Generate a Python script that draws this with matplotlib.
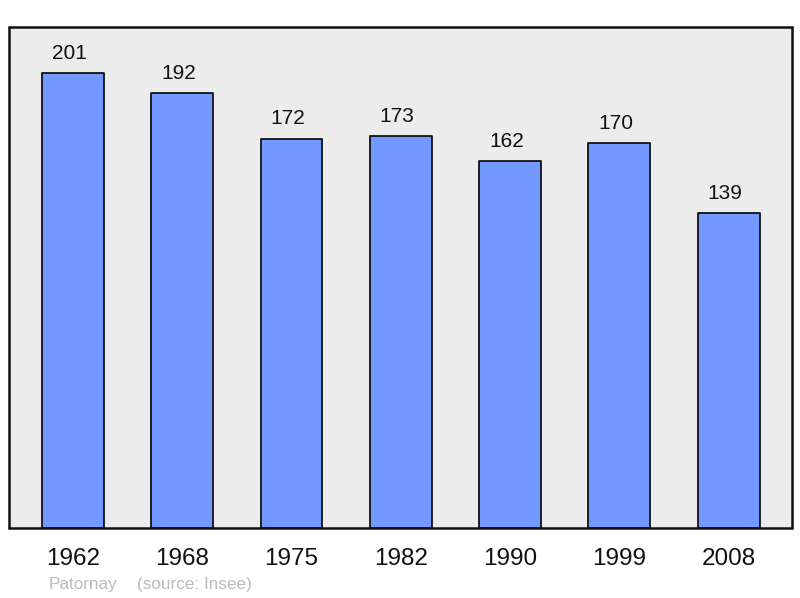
import matplotlib
matplotlib.use("Agg")
import matplotlib.pyplot as plt

years = ["1962", "1968", "1975", "1982", "1990", "1999", "2008"]
population = [201, 192, 172, 173, 162, 170, 139]

plt.rcParams["font.family"] = ["Liberation Sans", "DejaVu Sans"]

fig = plt.figure(figsize=(8.0, 5.98), dpi=100)
ax = fig.add_axes([9 / 800, 1 - 528 / 598, 783 / 800, 501 / 598])
ax.set_facecolor("#ececec")

x = list(range(len(years)))
bars = ax.bar(x, population, width=0.567, color="#7398ff",
              edgecolor="#111111", linewidth=1.3, zorder=2)
for b in bars:
    b.set_joinstyle("round")

for xi, v in zip(x, population):
    ax.annotate(str(v), (xi, v), xytext=(-2.5, 7.5), textcoords="offset points",
                ha="center", va="bottom", fontsize=15, color="#111111")

ax.set_xlim(-0.585, 6.58)
ax.set_ylim(0, 221.3)
ax.set_yticks([])
ax.set_xticks(x)
ax.set_xticklabels(years, fontsize=17.5, color="#111111")
ax.tick_params(axis="x", length=0, pad=14.5)

for sp in ax.spines.values():
    sp.set_linewidth(1.8)
    sp.set_edgecolor("#111111")
    sp.set_capstyle("round")

fig.text(49 / 800, 1 - 584 / 598, "Patornay",
         fontsize=12.3, color="#bbbbbb", ha="left", va="center")
fig.text(137 / 800, 1 - 584 / 598, "(source: Insee)",
         fontsize=12.3, color="#bbbbbb", ha="left", va="center")

fig.savefig("out.png", dpi=100, facecolor="white")
